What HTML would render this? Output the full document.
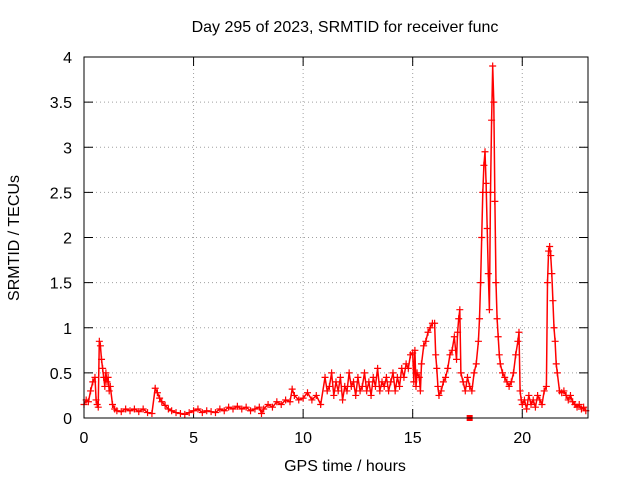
<!DOCTYPE html>
<html><head><meta charset="utf-8"><style>
body{margin:0;background:#fff}
svg{display:block;font-family:"Liberation Sans","DejaVu Sans",sans-serif;font-size:16px}
</style></head><body>
<svg id="chart" width="640" height="480">
<text x="345" y="32" text-anchor="middle">Day 295 of 2023, SRMTID for receiver func</text>
<text transform="translate(19,238) rotate(-90)" text-anchor="middle">SRMTID / TECUs</text>
<text x="345" y="471" text-anchor="middle">GPS time / hours</text>
<g id="grid"></g>
<g id="ticks"></g>
<g id="series"></g>
<rect x="84" y="57" width="504" height="361" fill="none" stroke="#000"/>
</svg>
<script>
const xTicks=[0,5,10,15,20];
const yTicks=[0,0.5,1,1.5,2,2.5,3,3.5,4];
const yTickLabels=["0","0.5","1","1.5","2","2.5","3","3.5","4"];
const times=[0,0.1,0.2,0.3,0.4,0.5,0.55,0.6,0.65,0.7,0.75,0.8,0.85,0.9,0.95,1.0,1.05,1.1,1.15,1.2,1.3,1.4,1.5,1.7,1.9,2.1,2.3,2.5,2.7,2.9,3.1,3.25,3.35,3.45,3.55,3.7,3.85,4.0,4.2,4.4,4.6,4.8,5.0,5.2,5.4,5.6,5.8,6.0,6.2,6.4,6.6,6.8,7.0,7.2,7.4,7.6,7.8,8.0,8.1,8.2,8.4,8.6,8.8,9.0,9.2,9.4,9.5,9.6,9.8,10.0,10.2,10.4,10.6,10.8,11.0,11.1,11.2,11.3,11.4,11.5,11.6,11.7,11.8,11.9,12.0,12.1,12.2,12.3,12.4,12.5,12.6,12.7,12.8,12.9,13.0,13.1,13.2,13.3,13.4,13.5,13.6,13.7,13.8,13.9,14.0,14.1,14.2,14.3,14.4,14.5,14.6,14.7,14.8,14.9,15.0,15.05,15.1,15.15,15.2,15.3,15.35,15.4,15.5,15.6,15.7,15.8,15.9,16.0,16.05,16.1,16.15,16.2,16.3,16.4,16.5,16.6,16.7,16.8,16.9,17.0,17.05,17.1,17.15,17.2,17.3,17.4,17.5,17.6,17.7,17.8,17.9,18.0,18.05,18.1,18.15,18.2,18.25,18.3,18.35,18.4,18.45,18.5,18.55,18.6,18.65,18.7,18.75,18.8,18.85,18.9,18.95,19.0,19.1,19.2,19.3,19.4,19.5,19.6,19.7,19.8,19.85,19.9,19.95,20.0,20.1,20.2,20.3,20.4,20.5,20.6,20.7,20.8,20.9,21.0,21.1,21.15,21.2,21.25,21.3,21.35,21.4,21.45,21.5,21.55,21.6,21.7,21.8,21.9,22.0,22.1,22.2,22.3,22.4,22.5,22.6,22.7,22.8,22.9];
const values=[0.15,0.2,0.18,0.3,0.4,0.45,0.2,0.15,0.12,0.85,0.8,0.65,0.55,0.45,0.35,0.5,0.4,0.45,0.3,0.35,0.15,0.1,0.08,0.07,0.1,0.08,0.1,0.07,0.1,0.06,0.05,0.33,0.28,0.22,0.18,0.14,0.1,0.08,0.06,0.05,0.04,0.06,0.08,0.1,0.06,0.08,0.07,0.06,0.1,0.08,0.12,0.1,0.13,0.1,0.12,0.08,0.1,0.12,0.05,0.1,0.15,0.12,0.18,0.15,0.2,0.18,0.32,0.25,0.2,0.22,0.28,0.2,0.25,0.15,0.45,0.3,0.35,0.5,0.25,0.4,0.3,0.45,0.2,0.35,0.3,0.5,0.35,0.4,0.25,0.45,0.3,0.35,0.5,0.3,0.4,0.25,0.45,0.35,0.55,0.3,0.4,0.35,0.45,0.3,0.4,0.5,0.3,0.45,0.35,0.55,0.45,0.6,0.55,0.7,0.72,0.4,0.75,0.35,0.5,0.45,0.3,0.6,0.8,0.85,0.95,1.0,1.05,1.05,0.7,0.55,0.35,0.25,0.3,0.4,0.45,0.55,0.7,0.75,0.9,0.65,0.95,1.1,1.2,0.5,0.4,0.3,0.45,0.35,0.3,0.5,0.6,0.85,1.1,1.5,2.0,2.5,2.8,2.95,2.6,2.1,1.6,1.2,2.5,3.3,3.9,3.5,2.4,1.5,1.1,0.9,0.7,0.6,0.5,0.45,0.4,0.35,0.4,0.5,0.7,0.85,0.95,0.3,0.2,0.15,0.2,0.1,0.25,0.15,0.2,0.12,0.25,0.2,0.15,0.3,0.35,1.5,1.85,1.9,1.8,1.6,1.3,1.0,0.85,0.6,0.5,0.3,0.28,0.3,0.25,0.2,0.25,0.18,0.15,0.12,0.15,0.1,0.12,0.08];
const NS='http://www.w3.org/2000/svg';
const X=t=>84+t*(504/23), Y=v=>418-v*(361/4);
function mk(tag,at,parent){const e=document.createElementNS(NS,tag);for(const k in at)e.setAttribute(k,at[k]);parent.appendChild(e);return e;}
const grid=document.getElementById('grid'),ticks=document.getElementById('ticks'),ser=document.getElementById('series');
xTicks.forEach(t=>{const x=X(t);
 const g=mk('line',{x1:x,x2:x,y1:57,y2:418,stroke:'#a0a0a0','stroke-dasharray':'1,3'},grid);
 
 mk('line',{x1:x,x2:x,y1:418,y2:409,stroke:'#000'},ticks);mk('line',{x1:x,x2:x,y1:57,y2:66,stroke:'#000'},ticks);
 const l=mk('text',{x:x,y:443,'text-anchor':'middle'},ticks);l.textContent=t;
 });
yTicks.forEach((v,i)=>{const y=Y(v);
 const g=mk('line',{x1:84,x2:588,y1:y,y2:y,stroke:'#a0a0a0','stroke-dasharray':'1,3'},grid);
 
 mk('line',{x1:84,x2:93,y1:y,y2:y,stroke:'#000'},ticks);mk('line',{x1:588,x2:579,y1:y,y2:y,stroke:'#000'},ticks);
 const l=mk('text',{x:72,y:y+6,'text-anchor':'end'},ticks);l.textContent=yTickLabels[i];
 });
const pts=times.map((t,i)=>X(t).toFixed(1)+','+Y(values[i]).toFixed(1)).join(' ');
const pl=mk('polyline',{points:pts,fill:'none',stroke:'#f00','stroke-width':1.5},ser);

times.forEach((t,i)=>{const x=X(t),y=Y(values[i]);
 const p=mk('path',{d:`M${x-3.5},${y}H${x+3.5}M${x},${y-3.5}V${y+3.5}`,stroke:'#f00','stroke-width':1.2},ser);
 });
const sq=mk('rect',{x:X(17.6)-3,y:Y(0)-3,width:6,height:6,fill:'#f00'},ser);

</script>
</body></html>
